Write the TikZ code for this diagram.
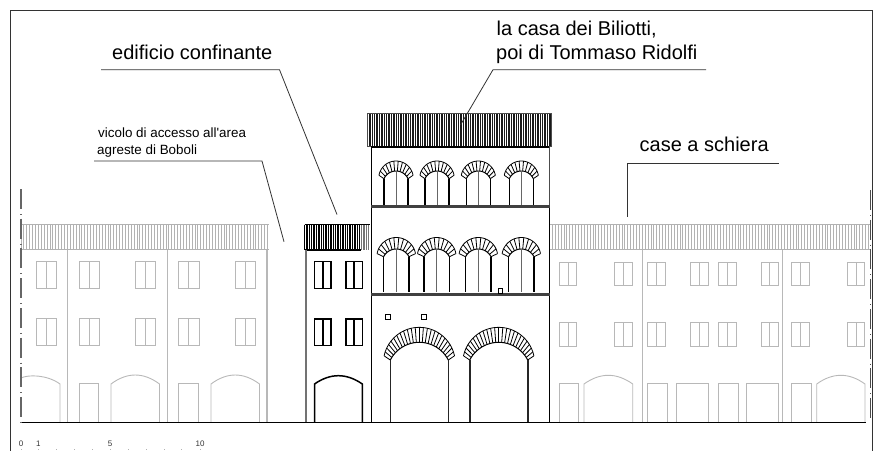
\documentclass[tikz,border=0pt]{standalone}
\usepackage{fontspec}
\setmainfont{Liberation Sans}[Ligatures=TeXOff]
\usetikzlibrary{calc}

\tikzset{
    grande/.style={anchor=base west, inner sep=0pt, font=\fontsize{20}{24}\selectfont},
    piccolo/.style={anchor=base west, inner sep=0pt, font=\fontsize{13.4}{16}\selectfont},
    numero/.style={anchor=base, inner sep=0pt, text=black!80, font=\fontsize{8}{10}\selectfont},
    leader/.style={black!80, line width=.8pt},
    chiaro/.style={black!28, line width=.9pt},
    scuro/.style={black, line width=1.5pt}
}

% window with its middle mullion
\newcommand{\finestra}[5]{
    \draw[#5] (#1,#3) rectangle (#2,#4);
    \draw[#5] ({(#1+#2)/2},#3) -- ({(#1+#2)/2},#4);
}
% low arch standing on the ground line
\newcommand{\arco}[5]{
    \draw[#5] (#1,422) -- (#1,#3) .. controls ({#1+(#2-#1)/3},{(4*#4-#3)/3}) and ({#2-(#2-#1)/3},{(4*#4-#3)/3}) .. (#2,#3) -- (#2,422);
}
% ring of voussoirs: cx, outer cy, r, half angle, inner cy, r, half angle, stones
\newcommand{\ghiera}[8]{
    \draw[black, line width=.8pt] plot[domain=90-#4:90+#4, samples=25] ({#1+#3*cos(\x)},{#2-#3*sin(\x)});
    \draw[black, line width=1pt] plot[domain=90-#7:90+#7, samples=25] ({#1+#6*cos(\x)},{#5-#6*sin(\x)});
    \foreach \k in {0,...,#8}{
        \pgfmathsetmacro{\ao}{90-#4+2*#4*\k/#8}
        \pgfmathsetmacro{\ai}{90-#7+2*#7*\k/#8}
        \draw[black, line width=.8pt] ({#1+#3*cos(\ao)},{#2-#3*sin(\ao)}) -- ({#1+#6*cos(\ai)},{#5-#6*sin(\ai)});
    }
}

\begin{document}
\begin{tikzpicture}[x=1pt, y=-1pt]
    \useasboundingbox (0,0) rectangle (878,450);

    % frame
    \draw[black!80, line width=.9pt] (10.5,460) -- (10.5,10) -- (872,10) -- (872,460);

    % roofs
    \foreach \i in {21,23.9,...,269}{
        \draw[black!30, line width=1pt] (\i,224.5) -- (\i,249.5);
    }
    \foreach \i in {549.5,552.4,...,870}{
        \draw[black!30, line width=1pt] (\i,224.5) -- (\i,249.5);
    }
    \draw[black!30, line width=.9pt] (21,224.5) -- (269,224.5);
    \draw[black!30, line width=1.3pt] (21,249.7) -- (269,249.7);
    \draw[black!30, line width=.9pt] (549.5,224.5) -- (870,224.5);
    \draw[black!30, line width=1.3pt] (549.5,249.7) -- (870,249.7);
    \foreach \i in {304.5,306.9,...,360}{
        \draw[black, line width=1.35pt] (\i,224.5) -- (\i,249.5);
    }
    \foreach \i in {361.5,363.9,...,370}{
        \draw[black!55, line width=1.35pt] (\i,224.5) -- (\i,249.5);
    }
    \draw[black, line width=.9pt] (304.5,224.5) -- (370,224.5);
    \draw[black, line width=1.4pt] (304.5,250) -- (361,250);
    \foreach \i in {367.5,369.9,...,551}{
        \draw[black!90, line width=1.3pt] (\i,113.5) -- (\i,146);
    }
    \draw[black!70, line width=.9pt] (367.5,113.5) rectangle (551,146);

    % row of houses on the left
    \draw[chiaro] (67.5,250) -- (67.5,422);
    \draw[chiaro] (167,250) -- (167,422);
    \draw[chiaro, line width=1.2pt] (267,250) -- (267,422);
    \foreach \a/\b in {36/56.5,79/99.5,135.5/155.5,178.5/199,235.5/255.5}{
        \finestra{\a}{\b}{261}{288}{chiaro}
        \finestra{\a}{\b}{318.5}{345.5}{chiaro}
    }
    \draw[chiaro] (21,378) .. controls (28,374.5) and (47,374.5) .. (60,384) -- (60,422);
    \arco{111}{159.5}{384}{375}{chiaro}
    \arco{211}{259.5}{384}{375}{chiaro}
    \draw[chiaro] (79,422) -- (79,383.5) -- (98.5,383.5) -- (98.5,422);
    \draw[chiaro] (178.5,422) -- (178.5,383.5) -- (198,383.5) -- (198,422);

    % row of houses on the right
    \draw[chiaro] (642.7,250) -- (642.7,422);
    \draw[chiaro] (782.7,250) -- (782.7,422);
    \foreach \a/\b in {559.3/576.7,614.7/632.3,647.7/665.7,690.3/708,718.7/736.7,761/778.7,791.7/809.7,847.3/864.7}{
        \finestra{\a}{\b}{262.3}{285.7}{chiaro}
        \finestra{\a}{\b}{322.7}{346}{chiaro}
    }
    \arco{584}{632.7}{384}{375.3}{chiaro}
    \arco{816.7}{865}{384}{375.3}{chiaro}
    \foreach \a/\b in {559.3/578.7,647.7/667.3,676/708,718.7/738.3,746.7/778.7,791.7/811.7}{
        \draw[chiaro] (\a,422) -- (\a,383.7) -- (\b,383.7) -- (\b,422);
    }

    % neighbouring building
    \draw[black!55, line width=1.1pt] (306,250) -- (306,422);
    \finestra{314.5}{331}{261.7}{288.3}{scuro}
    \finestra{346}{362.3}{261.7}{288.3}{scuro}
    \finestra{314.5}{331}{319}{345.7}{scuro}
    \finestra{346}{362.3}{319}{345.7}{scuro}
    \arco{314.5}{362.3}{384}{375.7}{scuro}

    % main house
    \draw[black, line width=.9pt] (371,147) -- (371,422);
    \draw[black!70, line width=.9pt] (549.5,147) -- (549.5,205);
    \draw[black, line width=.9pt] (549.5,205) -- (549.5,422);
    \draw[black, line width=2pt] (371,147) -- (549,147);
    \draw[black!75, line width=3pt] (371,206.7) -- (549.5,206.7);
    \draw[black!75, line width=3pt] (371,294.5) -- (549.5,294.5);
    \foreach \c in {396,437,478.3,521.3}{
        \ghiera{\c}{178.3}{17.3}{80}{184.2}{13.2}{65.4}{11}
        \draw[black, line width=1.1pt] (\c-12,178.7) -- (\c-12,205);
        \draw[black!60, line width=.9pt] (\c,171) -- (\c,205);
        \draw[black, line width=1.1pt] (\c+12,178.7) -- (\c+12,205);
    }
    \foreach \c in {396.3,436.7,478.3,521.3}{
        \ghiera{\c}{257}{19.5}{80}{263.3}{14.3}{62.6}{11}
        \draw[black, line width=1.1pt] (\c-12.7,256.7) -- (\c-12.7,292);
        \draw[black!60, line width=.9pt] (\c,249) -- (\c,292);
        \draw[black, line width=1.1pt] (\c+12.7,256.7) -- (\c+12.7,292);
    }
    \foreach \c in {419.3,498.7}{
        \ghiera{\c}{363.3}{36}{78}{374.9}{32.6}{62.8}{24}
        \draw[black!85, line width=1.6pt] (\c-29,360) -- (\c-29,422);
        \draw[black!85, line width=1.6pt] (\c+29,360) -- (\c+29,422);
    }
    \draw[black, line width=.8pt] (385.5,314.7) rectangle (390,319.5);
    \draw[black, line width=.8pt] (421.5,314.7) rectangle (426,319.5);
    \draw[black, line width=.8pt] (498,288.5) rectangle (502.5,293);

    % ground line and dashed axis ends
    \draw[black, line width=1pt] (21,422) -- (866,422);
    \draw[black!60, line width=1.3pt, dash pattern=on 20pt off 5pt on 1pt off 3.7pt] (21,189) -- (21,422);
    \draw[black!70, line width=1.5pt, dash pattern=on 20pt off 5pt on 1pt off 3.7pt] (870.3,190) -- (870.3,422);

    % scale
    \node[numero] (n0) at (21,446) {0};
    \node[numero] (n1) at (38.3,446) {1};
    \node[numero] (n5) at (110,446) {5};
    \node[numero] (n10) at (200,446) {10};
    \foreach \i in {21,38.3,56.7,74.7,92.7,110,128.3,146,164,181.7,200}{
        \draw[black!30, line width=.8pt] (\i,449) -- (\i,450);
    }

    % labels
    \node[grande] (edificio) at (112,59) {edificio confinante};
    \node[piccolo] (vicolo) at (98,137.5) {vicolo di accesso all'area};
    \node[piccolo] (agreste) at (97,154) {agreste di Boboli};
    \node[grande] (biliotti) at (496.5,35.5) {la casa dei Biliotti,};
    \node[grande] (ridolfi) at (496,59.5) {poi di Tommaso Ridolfi};
    \node[grande] (schiera) at (639.5,151.5) {case a schiera};

    \coordinate (e1) at (101,69.7);
    \coordinate (e2) at (279.5,69.7);
    \coordinate (e3) at (337,214.5);
    \coordinate (v1) at (94,161);
    \coordinate (v2) at (262,161);
    \coordinate (v3) at (284,241.7);
    \coordinate (c1) at (706,69.7);
    \coordinate (c2) at (493,69.7);
    \coordinate (c3) at (460.5,125);
    \coordinate (s1) at (778.5,163);
    \coordinate (s2) at (627,163);
    \coordinate (s3) at (627,217);

    \draw[leader] (e1) -- (e2) -- (e3);
    \draw[leader] (v1) -- (v2) -- (v3);
    \draw[leader] (c1) -- (c2) -- (c3);
    \draw[leader] (s1) -- (s2) -- (s3);
\end{tikzpicture}
\end{document}
